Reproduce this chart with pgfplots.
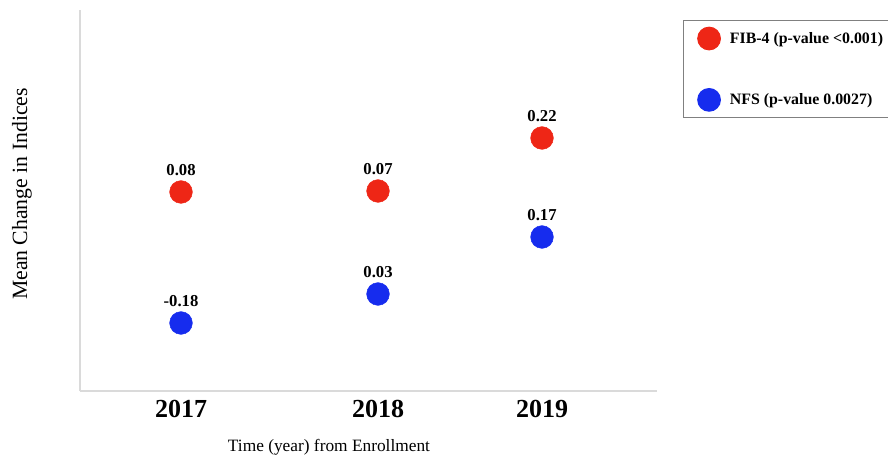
\documentclass[border=0pt]{standalone}
\usepackage{pgfplots}
\pgfplotsset{compat=1.18}
\usepackage{fontspec}
\setmainfont{Liberation Serif}
\definecolor{fibred}{RGB}{238,38,22}
\definecolor{nfsblue}{RGB}{22,44,238}
\definecolor{axgray}{RGB}{218,218,218}
\begin{document}
\begin{tikzpicture}
\begin{axis}[
  at={(0,0)}, anchor=south west,
  x=0.75pt, y=0.75pt,
  xmin=0, xmax=577, ymin=0, ymax=381,
  enlargelimits=false,
  axis x line=bottom, axis y line=left,
  axis line style={axgray, line width=1.3pt, -},
  xtick={101,298,462},
  xticklabels={\textbf{2017},\textbf{2018},\textbf{2019}},
  xticklabel style={font=\fontsize{19.5}{22}\selectfont\bfseries, yshift=-3pt},
  ytick=\empty,
  major tick length=0pt,
  xlabel={Time (year) from Enrollment},
  xlabel style={font=\fontsize{13}{15}\selectfont, at={(axis description cs:0.4315,-0.147)}, anchor=center},
  ylabel={Mean Change in Indices},
  ylabel style={font=\fontsize{16.3}{18}\selectfont, at={(axis description cs:-0.1005,0.517)}, anchor=center},
  clip=false,
  only marks,
  point meta=explicit symbolic,
  nodes near coords,
  every node near coord/.style={anchor=base, inner sep=0pt, yshift=12pt, font=\fontsize{12.5}{14}\selectfont\bfseries, text=black},
  legend image code/.code={\path (0pt,0pt) (26pt,0pt); \draw[#1] plot coordinates {(12.75pt,0pt)};},
  legend style={at={(axis cs:603,371)}, anchor=north west, draw=gray, line width=0.8pt,
    font=\fontsize{11.9}{14}\selectfont\bfseries, cells={anchor=west},
    inner xsep=6pt, inner ysep=5pt, row sep=29pt},
]
\addplot[mark=*, mark size=8.5pt, fibred, mark options={draw=fibred, fill=fibred}]
  coordinates {(101,199)[0.08] (298,200)[0.07] (462,253)[0.22]};
\addlegendentry{FIB-4 (p-value <0.001)}
\addplot[mark=*, mark size=8.5pt, nfsblue, mark options={draw=nfsblue, fill=nfsblue}]
  coordinates {(101,68)[-0.18] (298,97)[0.03] (462,154)[0.17]};
\addlegendentry{NFS (p-value 0.0027)}
\end{axis}
\pgfresetboundingbox
\path[use as bounding box] (-60pt,-48.75pt) rectangle (606pt,293.25pt);
\end{tikzpicture}
\end{document}
